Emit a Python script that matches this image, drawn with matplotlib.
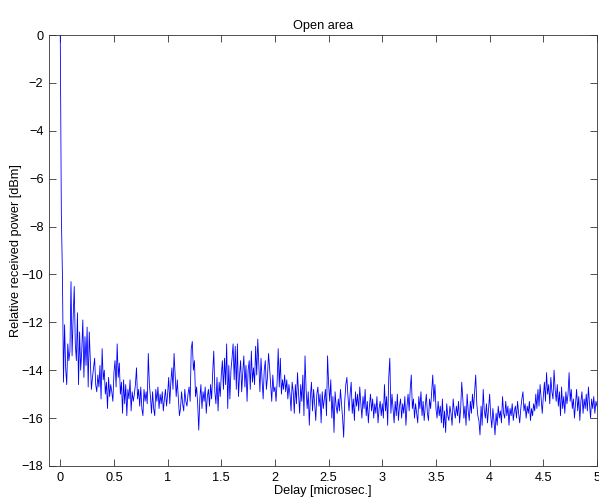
import numpy as np
import matplotlib
matplotlib.use("Agg")
import matplotlib.pyplot as plt

# Relative received power [dBm], sampled every 0.01 microseconds from 0 to 5
power_db = [
    0.0, -7.5, -10.0, -14.5, -12.1, -13.9, -14.6, -12.9, -13.6, -13.2,
    -10.3, -13.4, -11.8, -10.5, -12.9, -13.6, -11.6, -14.6, -12.4, -14.0,
    -13.2, -11.9, -14.3, -12.6, -13.8, -12.2, -14.7, -12.4, -13.6, -14.8,
    -14.3, -13.9, -13.5, -14.6, -14.9, -14.2, -14.7, -13.8, -15.2, -13.1,
    -14.4, -14.0, -15.0, -14.5, -15.6, -14.3, -15.1, -14.6, -14.9, -15.3,
    -14.1, -13.6, -14.7, -12.9, -14.3, -13.7, -15.0, -14.5, -15.8, -14.4,
    -15.4, -14.6, -15.9, -14.8, -15.2, -14.4, -15.7, -14.9, -15.3, -15.0,
    -14.6, -13.9, -15.2, -14.8, -15.5, -14.7, -15.6, -15.9, -14.8, -15.3,
    -14.9, -15.4, -13.3, -14.6, -15.1, -15.8, -14.9, -15.6, -15.9, -14.8,
    -15.3, -14.7, -15.6, -15.0, -15.4, -14.9, -15.7, -15.2, -14.8, -15.5,
    -15.0, -14.3, -15.4, -14.5, -13.9, -14.8, -13.3, -14.2, -15.1, -14.4,
    -15.2, -15.9, -15.6, -14.9, -15.4, -15.7, -14.8, -15.3, -15.5, -15.0,
    -14.7, -15.3, -13.1, -12.8, -14.0, -13.6, -15.1, -14.7, -15.4, -16.5,
    -15.2, -14.6, -15.6, -14.9, -15.3, -14.7, -15.8, -15.1, -14.8, -15.5,
    -14.6, -15.2, -14.1, -13.2, -14.9, -15.4, -14.3, -15.7, -14.5, -15.1,
    -14.2, -13.6, -14.8, -13.5, -14.6, -12.9, -15.6, -13.8, -15.2, -14.0,
    -13.5, -12.9, -14.4, -13.0, -14.8, -12.9, -15.1, -14.2, -13.6, -14.9,
    -14.1, -13.4, -14.7, -13.8, -15.3, -14.0, -13.6, -14.8, -13.2, -14.5,
    -13.9, -14.6, -13.0, -14.2, -12.7, -13.8, -14.9, -13.5, -14.4, -15.2,
    -14.0, -13.6, -14.8, -14.3, -13.3, -13.9, -14.6, -15.3, -14.2, -14.9,
    -14.7, -15.3, -14.5, -13.1, -14.7, -13.5, -15.0, -14.4, -14.8, -14.2,
    -14.9, -14.4, -15.2, -14.6, -15.0, -15.7, -14.5, -14.9, -15.8, -14.6,
    -15.4, -14.1, -15.0, -15.8, -14.6, -15.3, -14.2, -15.9, -13.4, -14.8,
    -15.6, -14.9, -16.3, -15.1, -14.5, -15.7, -14.8, -15.4, -16.1, -15.0,
    -14.7, -15.5, -15.0, -16.2, -14.9, -15.6, -15.2, -14.8, -15.9, -13.4,
    -14.6, -15.3, -14.4, -16.0, -15.1, -16.6, -14.9, -15.5, -15.8, -15.2,
    -15.7, -14.8, -15.4, -16.0, -16.8, -15.3, -14.6, -14.3, -15.1, -15.7,
    -15.0, -14.5, -15.8, -15.2, -16.1, -14.9, -15.5, -15.0, -15.7, -14.7,
    -15.4, -16.0, -15.1, -15.6, -14.8, -15.9, -15.3, -16.2, -15.5, -15.0,
    -15.7, -15.2, -16.0, -15.4, -15.8, -15.1, -16.2, -15.6, -15.3, -15.9,
    -15.4, -16.0, -14.6, -15.7, -15.1, -16.3, -14.3, -13.5, -15.8, -15.0,
    -15.6, -16.2, -15.3, -15.9, -15.0, -16.1, -15.5, -15.2, -16.0, -15.4,
    -15.8, -15.1, -16.3, -15.5, -15.0, -15.7, -14.8, -14.2, -15.6, -15.2,
    -16.0, -15.4, -15.8, -16.2, -15.1, -15.6, -14.9, -15.9, -15.3, -16.1,
    -15.5, -15.0, -15.8, -16.1, -15.2, -15.6, -14.9, -14.2, -15.3, -14.6,
    -15.6, -16.0, -15.3, -15.9, -15.5, -16.2, -15.2, -16.4, -15.7, -16.6,
    -15.4, -15.9, -16.1, -15.5, -15.8, -16.3, -15.2, -15.7, -16.0, -15.5,
    -15.9, -15.3, -16.2, -15.6, -14.5, -15.2, -16.0, -15.5, -16.3, -15.0,
    -15.7, -16.1, -15.3, -15.8, -15.0, -15.6, -14.9, -14.2, -15.4, -15.9,
    -16.1, -16.7, -15.5, -16.3, -14.8, -15.7, -16.0, -15.4, -16.2, -15.6,
    -15.0, -15.9, -16.4, -15.6, -16.1, -16.7, -15.8, -16.3, -15.5, -16.0,
    -15.7, -16.2, -15.1, -15.8, -16.0, -15.3, -15.9, -15.5, -16.3, -15.6,
    -15.9, -15.4, -16.1, -15.7, -15.5, -16.0, -15.3, -15.8, -16.2, -15.6,
    -15.2, -14.9, -15.7, -15.4, -16.0, -15.5, -15.8, -15.3, -16.1, -15.6,
    -15.9, -15.4, -15.7, -15.0, -15.6, -14.8, -15.5, -14.6, -15.2, -15.8,
    -15.1, -14.5, -15.3, -14.1, -15.0, -14.6, -15.4, -14.3, -14.9, -15.2,
    -14.0, -14.8, -15.3, -14.6, -15.5, -14.9, -15.9, -14.7, -15.6, -15.1,
    -15.8, -14.9, -15.4, -15.0, -14.1, -15.3, -14.8, -15.6, -15.2, -16.0,
    -15.4, -14.8, -15.7, -15.1, -16.1, -15.3, -14.9, -15.8, -15.2, -15.6,
    -15.0, -15.7, -14.7, -15.4, -16.0, -15.2, -15.6, -15.1, -15.8, -15.3,
    -15.5,
]
delay_start = 0.0
delay_end = 5.0
delay_us = np.linspace(delay_start, delay_end, len(power_db))

x_ticks = [0, 0.5, 1, 1.5, 2, 2.5, 3, 3.5, 4, 4.5, 5]
x_tick_labels = ["0", "0.5", "1", "1.5", "2", "2.5", "3", "3.5", "4", "4.5", "5"]
y_ticks = [0, -2, -4, -6, -8, -10, -12, -14, -16, -18]

title = "Open area"
x_label = "Delay [microsec.]"
y_label = "Relative received power [dBm]"

plt.rcParams["font.family"] = ["Liberation Sans", "DejaVu Sans"]
plt.rcParams["font.size"] = 9.2

fig = plt.figure(figsize=(5.99, 5.0), dpi=100)
ax = fig.add_axes([49 / 599, 1 - 466 / 500, (597 - 49) / 599, (466 - 35) / 500])
ax.plot(delay_us, power_db, color="#0000ff", linewidth=0.6)

ax.set_xlim(-0.105, 5)
ax.set_ylim(-18, 0)
ax.set_xticks(x_ticks)
ax.set_xticklabels(x_tick_labels)
ax.set_yticks(y_ticks)
ax.tick_params(direction="in", top=True, right=True, length=5, width=0.6,
               color="#333333", labelcolor="black", pad=4)
for s in ax.spines.values():
    s.set_linewidth(0.6)
    s.set_color("#333333")

ax.set_title(title, fontsize=9.2, pad=4)
ax.set_xlabel(x_label, fontsize=9.2, labelpad=1)
ax.set_ylabel(y_label, fontsize=9.2)
ax.yaxis.set_label_coords(-0.049, 0.5)

fig.savefig("out.png", dpi=100)
